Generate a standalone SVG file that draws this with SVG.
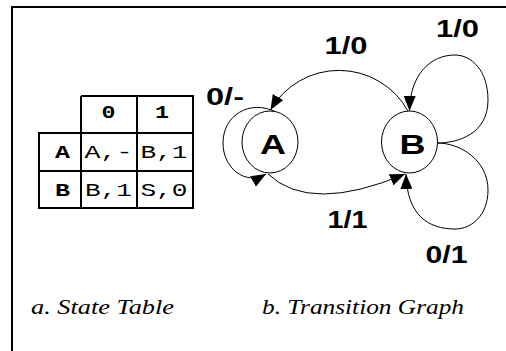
<svg xmlns="http://www.w3.org/2000/svg" width="506" height="351" viewBox="0 0 506 351">
<style>
.frame{stroke:#000;stroke-width:2;fill:none}
.grid{stroke:#000;stroke-width:2;fill:none}
.mono{font-family:"Liberation Mono","Courier New",monospace;font-size:19px;fill:#000;text-anchor:middle}
.monob{font-family:"Liberation Mono","Courier New",monospace;font-size:19px;font-weight:bold;fill:#000;text-anchor:middle}
.state{fill:#fff;stroke:#000;stroke-width:1}
.sl{font-family:"Liberation Sans",Arial,sans-serif;font-size:27px;font-weight:bold;fill:#000;text-anchor:middle}
.lbl{font-family:"Liberation Sans",Arial,sans-serif;font-size:24px;font-weight:bold;fill:#000;text-anchor:middle}
.edge{stroke:#000;stroke-width:1;fill:none;marker-end:url(#arr)}
.cap{font-family:"Liberation Serif","Times New Roman",serif;font-size:21px;font-style:italic;fill:#000}
</style>
<defs>
<marker id="arr" markerWidth="16" markerHeight="12" refX="15" refY="6" orient="auto" markerUnits="userSpaceOnUse">
<path d="M0,0 L15,6 L0,12 z" fill="#000"/>
</marker>
</defs>
<path class="frame" d="M12,351 V7 H506"/>
<g id="state-table">
<path class="grid" d="M81,96 H193 V208 H39 V133 H193 M81,96 V208 M137,96 V208 M39,171 H193"/>
<text class="monob" x="108.5" y="118" textLength="14" lengthAdjust="spacingAndGlyphs">0</text>
<text class="monob" x="162" y="118" textLength="14" lengthAdjust="spacingAndGlyphs">1</text>
<text class="monob" x="62.5" y="158" textLength="15" lengthAdjust="spacingAndGlyphs">A</text>
<text class="mono" x="108.5" y="158" textLength="48" lengthAdjust="spacingAndGlyphs">A,-</text>
<text class="mono" x="164" y="158" textLength="47" lengthAdjust="spacingAndGlyphs">B,1</text>
<text class="monob" x="62.5" y="196" textLength="15" lengthAdjust="spacingAndGlyphs">B</text>
<text class="mono" x="108.5" y="196" textLength="47" lengthAdjust="spacingAndGlyphs">B,1</text>
<text class="mono" x="164" y="196" textLength="47" lengthAdjust="spacingAndGlyphs">S,0</text>
</g>
<g id="connectors">
<path class="edge" d="M276,112 C250,99 223,115 223,143 C223,168 245,186 266,174"/>
<path class="edge" d="M408,111 A79,79 0 0 0 270.5,110"/>
<path class="edge" d="M268,174 Q310,214 405,174"/>
<path class="edge" d="M437.5,143 C458,143 488,134 488,100 C488,70 471,55 455,55 C430,55 410,75 409.5,111"/>
<path class="edge" d="M437.5,143 C460,143 488,160 488,190 C488,215 472,229 455,229 C428,229 407,215 406,174"/>
</g>
<g id="node-A">
<ellipse class="state" cx="270" cy="142" rx="28" ry="31"/>
<text class="sl" x="273" y="154" textLength="26" lengthAdjust="spacingAndGlyphs">A</text>
</g>
<g id="node-B">
<ellipse class="state" cx="409.5" cy="142" rx="28" ry="31"/>
<text class="sl" x="412.5" y="154" textLength="26" lengthAdjust="spacingAndGlyphs">B</text>
</g>
<g id="edge-labels">
<text class="lbl" x="346" y="54" textLength="43" lengthAdjust="spacingAndGlyphs">1/0</text>
<text class="lbl" x="457.5" y="37" textLength="43" lengthAdjust="spacingAndGlyphs">1/0</text>
<text class="lbl" x="225" y="105" textLength="38" lengthAdjust="spacingAndGlyphs">0/-</text>
<text class="lbl" x="347.5" y="228" textLength="40" lengthAdjust="spacingAndGlyphs">1/1</text>
<text class="lbl" x="446.5" y="263" textLength="42" lengthAdjust="spacingAndGlyphs">0/1</text>
</g>
<g id="captions">
<text class="cap" x="31" y="314" textLength="143" lengthAdjust="spacingAndGlyphs">a. State Table</text>
<text class="cap" x="262" y="314" textLength="202" lengthAdjust="spacingAndGlyphs">b. Transition Graph</text>
</g>
</svg>
